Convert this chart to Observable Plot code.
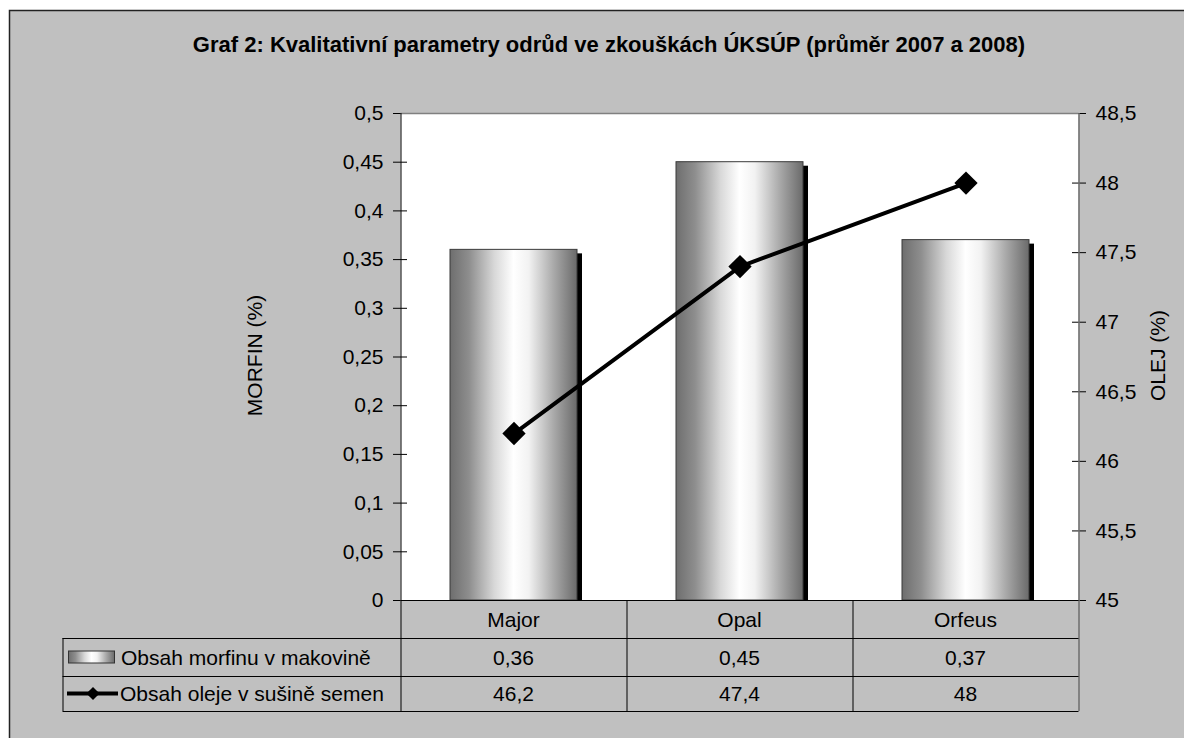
<!DOCTYPE html>
<html><head><meta charset="utf-8">
<script src="https://cdn.jsdelivr.net/npm/d3@7"></script>
<script src="https://cdn.jsdelivr.net/npm/@observablehq/plot@0.6"></script>
<style>
html,body{margin:0;padding:0;background:#fff;}
#chart{width:1184px;height:738px;overflow:hidden;position:relative;}
#chart svg{display:block;}
</style></head><body><div id="chart"></div>
<script>
// ---- data ----
const categories = ["Major", "Opal", "Orfeus"];
const morfin = [0.36, 0.45, 0.37];
const olej = [46.2, 47.4, 48];
const leftTicks = [0, 0.05, 0.1, 0.15, 0.2, 0.25, 0.3, 0.35, 0.4, 0.45, 0.5];
const rightTicks = [45, 45.5, 46, 46.5, 47, 47.5, 48, 48.5];
const seriesNames = ["Obsah morfinu v makovině", "Obsah oleje v sušině semen"];
const titleText = "Graf 2: Kvalitativní parametry odrůd ve zkouškách ÚKSÚP (průměr 2007 a 2008)";
const leftLabel = "MORFIN (%)";
const rightLabel = "OLEJ (%)";

// ---- helpers ----
const OIL_MIN = rightTicks[0], OIL_MAX = rightTicks[rightTicks.length - 1];
const M_MAX = leftTicks[leftTicks.length - 1];
const toLeft = v => (v - OIL_MIN) / (OIL_MAX - OIL_MIN) * M_MAX;
const fromLeft = v => OIL_MIN + v / M_MAX * (OIL_MAX - OIL_MIN);
const fmt = v => String(Math.round(v * 1000) / 1000).replace(".", ",");

const data = categories.map((c, i) => ({cat: c, morfin: morfin[i], olej: olej[i]}));

const W = 1184, H = 738;
const FONT = "'Liberation Sans', Arial, Helvetica, sans-serif";
const FS = 21;
const BG = "#c0c0c0";

const plot = Plot.plot({
  width: W, height: H,
  marginLeft: 400, marginRight: 106, marginTop: 113, marginBottom: 138,
  style: {background: "transparent", fontFamily: FONT, fontSize: FS + "px", color: "#000", overflow: "visible"},
  x: {domain: categories, paddingInner: 0.44, paddingOuter: 0.22, axis: null},
  y: {domain: [0, M_MAX], axis: null},
  marks: [
    Plot.frame({fill: "white", stroke: "none"}),
    Plot.barY(data, {x: "cat", y: "morfin", fill: "black", dx: 5, dy: 4}),
    Plot.barY(data, {x: "cat", y: "morfin", fill: "url(#barGrad)", stroke: "#3a3a3a", strokeWidth: 1}),
    Plot.line(data, {x: "cat", y: d => toLeft(d.olej), stroke: "black", strokeWidth: 4}),
    Plot.dot(data, {x: "cat", y: d => toLeft(d.olej), symbol: "diamond2", r: 10.5, fill: "black", stroke: "none"}),
    Plot.axisY({anchor: "left", ticks: leftTicks, tickSize: 14, dx: 7, tickPadding: 10, tickFormat: fmt, label: null, fontSize: FS}),
    Plot.axisY({anchor: "right", ticks: rightTicks.map(toLeft), tickSize: 14, dx: -7, tickPadding: 10,
      tickFormat: d => fmt(fromLeft(d)), label: null, fontSize: FS})
  ]
});

document.getElementById("chart").appendChild(plot);
const svg = d3.select(plot);

// gradient defs
const defs = svg.insert("defs", ":first-child");
const g = defs.append("linearGradient").attr("id", "barGrad").attr("x1", "0").attr("x2", "1").attr("y1", "0").attr("y2", "0");
[[0, "#6e6e6e"], [0.15, "#8e8e8e"], [0.35, "#d8d8d8"], [0.5, "#ffffff"], [0.62, "#f2f2f2"], [0.82, "#a8a8a8"], [1, "#6a6a6a"]]
  .forEach(([o, c]) => g.append("stop").attr("offset", o).attr("stop-color", c));

// background + outer border behind everything
svg.insert("rect", "defs + *").attr("x", 9.5).attr("y", 10.5).attr("width", 1200).attr("height", 760)
  .attr("fill", BG).attr("stroke", "#222").attr("stroke-width", 1.5);

const xs = plot.scale("x"), ys = plot.scale("y");
const step = xs.step, bw = xs.bandwidth;
const centers = categories.map(c => xs.apply(c) + bw / 2);
const left = centers[0] - step / 2, right = centers[centers.length - 1] + step / 2;
const y0 = ys.apply(0), yTop = ys.apply(M_MAX);
const rows = [y0, y0 + 38, y0 + 76, y0 + 111];
const tableLeft = 62.5;

const ov = svg.append("g").attr("font-family", FONT).attr("font-size", FS).attr("fill", "black").attr("text-anchor", "start");
// table background (covers shadow overflow)
ov.append("rect").attr("x", left).attr("y", y0).attr("width", right - left).attr("height", rows[3] - y0).attr("fill", BG);
ov.append("rect").attr("x", tableLeft).attr("y", rows[1]).attr("width", left - tableLeft).attr("height", rows[3] - rows[1]).attr("fill", BG);

const line = (x1, y1, x2, y2, c = "black", w = 1) => ov.append("line").attr("x1", x1).attr("y1", y1).attr("x2", x2).attr("y2", y2).attr("stroke", c).attr("stroke-width", w);
// plot border
line(left, yTop + 0.5, right, yTop + 0.5, "#808080", 1.5);
line(right + 0.5, yTop, right + 0.5, rows[3], "#6e6e6e", 1.5);
line(left + 0.5, yTop, left + 0.5, rows[3]);
line(left, y0 + 0.5, right, y0 + 0.5);
// table grid
line(tableLeft, rows[1] + 0.5, right, rows[1] + 0.5);
line(tableLeft, rows[2] + 0.5, right, rows[2] + 0.5);
line(tableLeft, rows[3] + 0.5, right, rows[3] + 0.5);
line(tableLeft + 0.5, rows[1], tableLeft + 0.5, rows[3]);
centers.slice(1).forEach(c => line(c - step / 2 + 0.5, y0, c - step / 2 + 0.5, rows[3]));

// table texts
const mid = (a, b) => (a + b) / 2;
categories.forEach((c, i) => {
  ov.append("text").attr("x", centers[i]).attr("y", mid(rows[0], rows[1])).attr("text-anchor", "middle").attr("dy", "0.36em").text(c);
  ov.append("text").attr("x", centers[i]).attr("y", mid(rows[1], rows[2])).attr("text-anchor", "middle").attr("dy", "0.36em").text(fmt(morfin[i]));
  ov.append("text").attr("x", centers[i]).attr("y", mid(rows[2], rows[3])).attr("text-anchor", "middle").attr("dy", "0.36em").text(fmt(olej[i]));
});
// legend keys
const r1 = mid(rows[1], rows[2]), r2 = mid(rows[2], rows[3]);
ov.append("rect").attr("x", 68.5).attr("y", r1 - 6).attr("width", 46).attr("height", 12).attr("fill", "url(#barGrad)").attr("stroke", "#333").attr("stroke-width", 1);
ov.append("text").attr("x", 121).attr("y", r1).attr("dy", "0.36em").attr("text-anchor", "start").text(seriesNames[0]);
line(67, r2, 118, r2, "black", 4);
ov.append("path").attr("d", d3.symbol(d3.symbolDiamond2, 110)()).attr("transform", `translate(93,${r2})`).attr("fill", "black");
ov.append("text").attr("x", 120).attr("y", r2).attr("dy", "0.36em").attr("text-anchor", "start").text(seriesNames[1]);

// titles
ov.append("text").attr("x", 609).attr("y", 52).attr("text-anchor", "middle").attr("font-weight", "bold").attr("font-size", 22).text(titleText);
ov.append("text").attr("transform", `translate(262,${mid(yTop, y0) - 1}) rotate(-90)`).attr("text-anchor", "middle").text(leftLabel);
ov.append("text").attr("transform", `translate(1165,${mid(yTop, y0) - 1}) rotate(-90)`).attr("text-anchor", "middle").text(rightLabel);
</script>
</body></html>
